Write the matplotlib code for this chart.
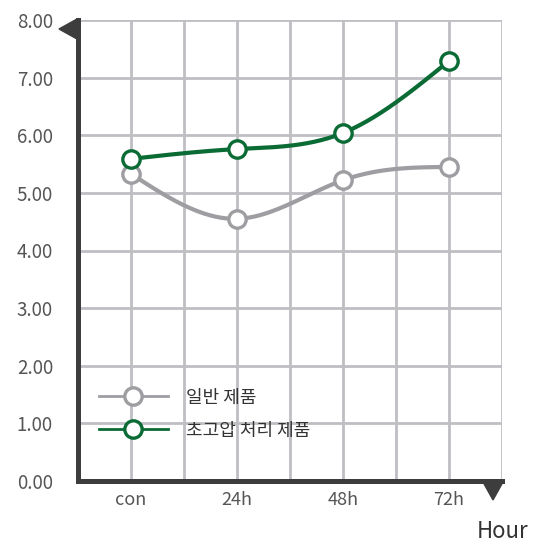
import numpy as np
import matplotlib
matplotlib.use('Agg')
from matplotlib import pyplot as plt
from matplotlib.patches import Polygon

plt.rcParams['font.family'] = ['Noto Sans CJK KR', 'DejaVu Sans']

# data
hours = ['con', '24h', '48h', '72h']
normal = [5.33, 4.55, 5.22, 5.45]       # 일반 제품
treated = [5.59, 5.76, 6.04, 7.29]      # 초고압 처리 제품
labels = ['일반 제품', '초고압 처리 제품']

GRAY = '#9e9ea2'
GREEN = '#0b6b35'
GRID = '#bfbfc3'
DARK = '#3d3d3d'
TXT = '#555555'


def smooth(xs, ys, n=60):
    # natural cubic spline through the points (drawing only)
    xs = np.asarray(xs, float)
    ys = np.asarray(ys, float)
    k = len(xs)
    h = np.diff(xs)
    A = np.zeros((k, k))
    r = np.zeros(k)
    A[0, 0] = A[-1, -1] = 1
    for i in range(1, k - 1):
        A[i, i - 1] = h[i - 1]
        A[i, i] = 2 * (h[i - 1] + h[i])
        A[i, i + 1] = h[i]
        r[i] = 6 * ((ys[i + 1] - ys[i]) / h[i] - (ys[i] - ys[i - 1]) / h[i - 1])
    M = np.linalg.solve(A, r)
    outx, outy = [], []
    for i in range(k - 1):
        t = np.linspace(xs[i], xs[i + 1], n)
        a = (xs[i + 1] - t) / h[i]
        b = (t - xs[i]) / h[i]
        s = a * ys[i] + b * ys[i + 1] + ((a ** 3 - a) * M[i] + (b ** 3 - b) * M[i + 1]) * h[i] ** 2 / 6
        outx.extend(t)
        outy.extend(s)
    return outx, outy


fig = plt.figure(figsize=(5.44, 5.42), dpi=100)
ax = fig.add_axes([78 / 544, 61 / 542, 424 / 544, 461 / 542])

x = np.arange(len(hours))
for vals, col, lab in [(normal, GRAY, labels[0]), (treated, GREEN, labels[1])]:
    sx, sy = smooth(x, vals)
    ax.plot(sx, sy, color=col, lw=3, solid_capstyle='round', zorder=3)
    ax.plot(x, vals, ls='none', marker='o', ms=12.5, mfc='white', mec=col,
            mew=2.4, zorder=4, clip_on=False)
    # legend proxy
    ax.plot([], [], color=col, lw=2, marker='o', ms=12.5, mfc='white',
            mec=col, mew=2.4, label=lab)

ax.set_xlim(-0.5, 3.5)
ax.set_ylim(0, 8)
ax.set_xticks(x)
ax.set_xticklabels(hours, fontweight='light')
ax.set_yticks(np.arange(0, 9))
ax.set_yticklabels(['%.2f' % v for v in range(9)], fontweight='light')
ax.set_xticks(np.arange(-0.5, 3.6, 1.0), minor=True)
ax.tick_params(which='both', length=0)
ax.tick_params(axis='y', pad=18, labelsize=13.5, labelcolor=TXT)
ax.tick_params(axis='x', pad=7, labelsize=13, labelcolor=TXT)

ax.grid(True, which='both', axis='x', color=GRID, lw=2)
ax.grid(True, which='major', axis='y', color=GRID, lw=2)
ax.set_axisbelow(True)

for s in ['top', 'right']:
    ax.spines[s].set_visible(False)
for s in ['left', 'bottom']:
    ax.spines[s].set_color(DARK)
    ax.spines[s].set_linewidth(3.6)
    ax.spines[s].set_zorder(5)

# arrow heads
def px(xp, yp):
    return (xp / 544, 1 - yp / 542)

fig.patches.append(Polygon([px(59, 29), px(77, 19), px(77, 39)], closed=True,
                           transform=fig.transFigure, color=DARK, zorder=6))
fig.patches.append(Polygon([px(483, 482), px(503, 482), px(493, 500)], closed=True,
                           transform=fig.transFigure, color=DARK, zorder=6))

fig.text(503 / 544, 1 - 531 / 542, 'Hour', ha='center', va='center',
         fontsize=16, color='#333333')

leg = ax.legend(loc='lower left', bbox_to_anchor=(0.011, 0.055), frameon=False,
                fontsize=13, handlelength=3.8, labelspacing=0.83,
                handletextpad=1.05, labelcolor='#333333')

fig.savefig('out.png', dpi=100)
